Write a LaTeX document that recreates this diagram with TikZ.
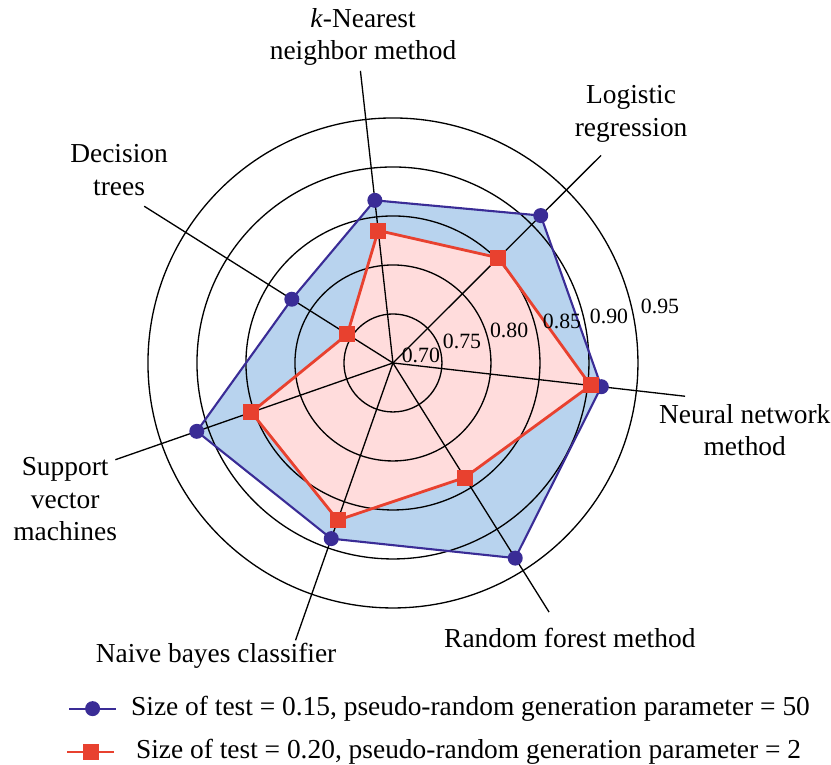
\documentclass[tikz,border=0pt]{standalone}
\usepackage{fontspec}
\setmainfont{Liberation Serif}
\usepackage{xcolor}
\usepackage{tikz}
\usetikzlibrary{positioning,calc}

\definecolor{bluepoly}{HTML}{3A2C96}
\definecolor{bluefill}{HTML}{B8D3EE}
\definecolor{redpoly}{HTML}{E8412F}
\definecolor{redfill}{HTML}{FFDCDC}

\begin{document}
\begin{tikzpicture}[x=0.98cm, y=0.98cm,
  ringline/.style={black, line width=0.75pt},
  axlabel/.style={align=center, font=\fontsize{15.6}{18.5}\selectfont},
  ticklabel/.style={font=\fontsize{12.4}{14}\selectfont, inner sep=0pt},
  bluedot/.style={circle, fill=bluepoly, inner sep=0pt, minimum size=0.3cm},
  redsq/.style={rectangle, fill=redpoly, inner sep=0pt, minimum size=0.32cm}]
\useasboundingbox (-8.02,-8.204) rectangle (8.94,7.408);

\coordinate (c) at (0,0);

% Data points (blue: test 0.15, red: test 0.20)
\foreach \v [count=\i] in {0.914,0.913,0.867,0.822,0.912,0.890,0.935}
  \coordinate (b-\i) at ({-6.5+(\i-1)*360/7}:{(\v-0.7)*20});
\foreach \v [count=\i] in {0.903,0.852,0.836,0.755,0.853,0.870,0.838}
  \coordinate (r-\i) at ({-6.5+(\i-1)*360/7}:{(\v-0.7)*20});

% Filled areas
\fill[bluefill] (b-1) \foreach \i in {2,...,7}{-- (b-\i)} -- cycle;
\fill[redfill] (r-1) \foreach \i in {2,...,7}{-- (r-\i)} -- cycle;

% Rings
\foreach \r in {1,...,5}
  \draw[ringline] (c) circle (\r);

% Axes
\foreach \i in {1,...,7}{
  \coordinate (end-\i) at ({-6.5+(\i-1)*360/7}:6);
  \draw[ringline] (c) -- (end-\i);
}

% Outlines
\draw[bluepoly, line width=1.2pt, line join=round] (b-1) \foreach \i in {2,...,7}{-- (b-\i)} -- cycle;
\draw[redpoly, line width=1.6pt, line join=round] (r-1) \foreach \i in {2,...,7}{-- (r-\i)} -- cycle;

% Markers
\foreach \i in {1,...,7}
  \node[bluedot] (bd-\i) at (b-\i) {};
\foreach \i in {1,...,7}
  \node[redsq] (rs-\i) at (r-\i) {};

% Tick labels
\foreach \t/\x/\y [count=\k] in {0.70/0.57/0.16, 0.75/1.41/0.45, 0.80/2.37/0.67, 0.85/3.45/0.84, 0.90/4.41/0.96, 0.95/5.45/1.16}
  \node[ticklabel] (tick-\k) at (\x,\y) {\t};

% Axis labels
\node[axlabel] (nn) at (7.18,-1.37) {Neural network\\method};
\node[axlabel] (lr) at (4.86,5.08) {Logistic\\regression};
\node[axlabel] (knn) at (-0.61,6.65) {\textit{k}-Nearest\\neighbor method};
\node[axlabel] (dt) at (-5.59,3.94) {Decision\\trees};
\node[axlabel] (svm) at (-6.69,-2.78) {Support\\vector\\machines};
\node[axlabel] (nb) at (-3.61,-5.98) {Naive bayes classifier};
\node[axlabel] (rf) at (3.61,-5.61) {Random forest method};

% Legend
\coordinate (lb-a) at (-6.61,-7.055);
\coordinate (lb-b) at (-5.65,-7.055);
\draw[bluepoly, line width=1.2pt] (lb-a) -- (lb-b);
\node[bluedot] (lb-dot) at (-6.13,-7.055) {};
\node[axlabel, anchor=west] (lb-text) at (-5.47,-7.055) {Size of test = 0.15, pseudo-random generation parameter = 50};

\coordinate (lr-a) at (-6.65,-7.94);
\coordinate (lr-b) at (-5.69,-7.94);
\draw[redpoly, line width=1.6pt] (lr-a) -- (lr-b);
\node[redsq] (lr-sq) at (-6.17,-7.94) {};
\node[axlabel, anchor=west] (lr-text) at (-5.37,-7.94) {Size of test = 0.20, pseudo-random generation parameter = 2};
\end{tikzpicture}
\end{document}
